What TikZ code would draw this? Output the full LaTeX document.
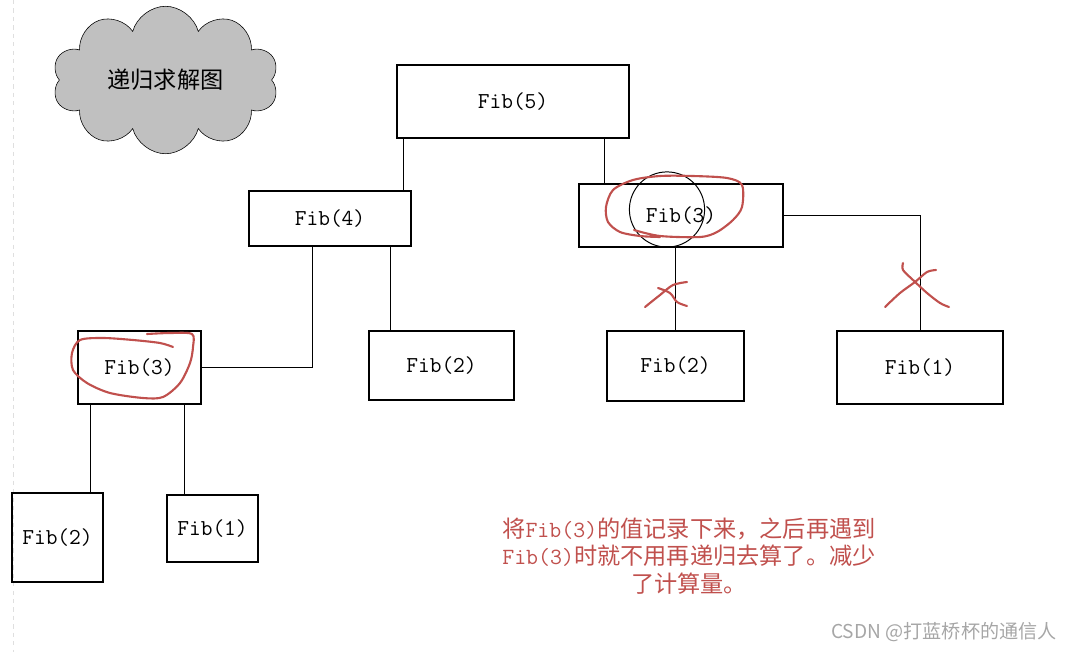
\documentclass[tikz,border=0pt]{standalone}
\usepackage{fontspec}
\newfontfamily\cjk{Noto Sans CJK SC}
\usetikzlibrary{shapes.symbols, calc, positioning}

\definecolor{pen}{RGB}{192,80,77}
\definecolor{cloudgray}{RGB}{192,192,192}

\begin{document}
\begin{tikzpicture}[
  x=0.025cm, y=-0.025cm,
  fib/.style={rectangle, draw, line width=0.9pt, inner sep=0pt,
    font=\fontsize{16.2}{18}\selectfont\ttfamily},
  link/.style={line width=0.7pt},
  redpen/.style={draw=pen, line width=1.5pt, line cap=round, line join=round}]

  \useasboundingbox (0,0) rectangle (1072,652);
  \draw[gray!25, dashed] (13,0) -- (13,652);

  % title cloud
  \node[cloud, draw, fill=cloudgray, cloud puffs=10, aspect=1.6,
    minimum width=5.65cm, minimum height=3.45cm,
    font=\cjk\fontsize{16.5}{18}\selectfont] (title) at (165.5,80) {递归求解图};

  % call tree
  \node[fib, minimum width=5.8cm, minimum height=1.825cm] (f5) at (513,101.5) {Fib(5)};
  \node[fib, minimum width=4.05cm, minimum height=1.375cm] (f4) at (330,218.5) {Fib(4)};
  \node[fib, minimum width=5.1cm, minimum height=1.575cm] (f3b) at (681,215.5) {Fib(3)};
  \node[fib, minimum width=3.075cm, minimum height=1.825cm] (f3a) at (139.5,367.5) {Fib(3)};
  \node[fib, minimum width=3.625cm, minimum height=1.725cm] (f2b) at (441.5,365.5) {Fib(2)};
  \node[fib, minimum width=3.425cm, minimum height=1.75cm] (f2c) at (675.5,366) {Fib(2)};
  \node[fib, minimum width=4.15cm, minimum height=1.825cm] (f1b) at (920,367.5) {Fib(1)};
  \node[fib, minimum width=2.275cm, minimum height=2.225cm] (f2a) at (57.5,537.5) {Fib(2)};
  \node[fib, minimum width=2.275cm, minimum height=1.675cm] (f1a) at (212.5,528.5) {Fib(1)};

  \coordinate (s54) at ($(f5.south west)+(7,0)$);
  \coordinate (s53) at ($(f5.south east)+(-25,0)$);
  \coordinate (s43) at ($(f4.south west)+(64,0)$);
  \coordinate (s42) at ($(f4.south east)+(-21,0)$);
  \coordinate (s32) at ($(f3a.south west)+(13,0)$);
  \coordinate (s31) at ($(f3a.south east)+(-17,0)$);

  \draw[link] (s54) -- (s54 |- f4.north);
  \draw[link] (s53) -- (s53 |- f3b.north);
  \draw[link] (s43) |- (f3a.east);
  \draw[link] (s42) -- (s42 |- f2b.north);
  \draw[link] (f3b.east) -| (f1b.north);
  \draw[link] (f3b.south -| f2c.north) -- (f2c.north);
  \draw[link] (s32) -- (s32 |- f2a.north);
  \draw[link] (s31) -- (s31 |- f1a.north);

  % marks drawn by hand
  \draw[line width=0.7pt] (667,209.5) circle[radius=0.94cm];
  \draw[redpen] plot[smooth] coordinates {(634,230) (660,236) (700,237) (717,232)
    (733,220) (742,207) (742,185) (727,178) (693,176) (660,176) (633,180)
    (613,190) (606,207) (608,222) (620,232) (640,236) (660,237)};
  \draw[redpen] plot[smooth] coordinates {(173,347) (160,343) (133,340) (103,338)
    (80,340) (72,353) (73,370) (87,383) (110,393) (143,398) (163,397) (180,383)
    (190,363) (193,347) (192,334) (170,333) (147,334)};
  \draw[redpen] plot[smooth] coordinates {(645,307) (660,295) (673,285) (687,282)};
  \draw[redpen] plot[smooth] coordinates {(658,288) (670,293) (677,302) (687,306)};
  \draw[redpen] plot[smooth] coordinates {(885,307) (900,293) (915,282) (927,272) (936,270)};
  \draw[redpen] plot[smooth] coordinates {(903,263) (903,270) (913,280) (927,293) (940,303) (949,307)};

  \node[align=center, text=pen, font=\cjk\fontsize{16.5}{19.5}\selectfont] (note) at (689,556)
    {将{\ttfamily Fib(3)}的值记录下来，之后再遇到\\{\ttfamily Fib(3)}时就不用再递归去算了。减少\\了计算量。};

  \node[anchor=east, inner sep=0pt, text=gray!70, font=\cjk\fontsize{13.6}{15}\selectfont] (mark) at (1057,632)
    {CSDN @打蓝桥杯的通信人};
\end{tikzpicture}
\end{document}
